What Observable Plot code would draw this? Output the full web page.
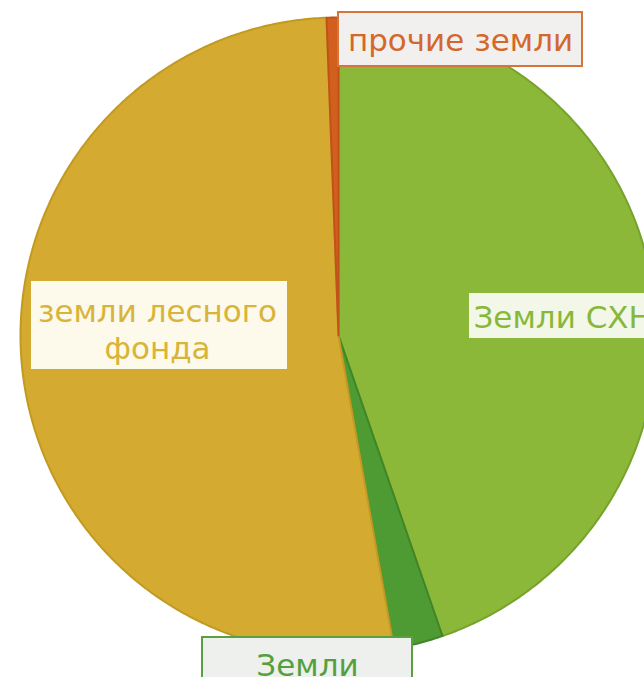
<!DOCTYPE html>
<html><head><meta charset="utf-8">
<script src="https://cdn.jsdelivr.net/npm/d3@7"></script>
<script src="https://cdn.jsdelivr.net/npm/@observablehq/plot@0.6"></script>
<style>body{margin:0;background:#fff;overflow:hidden}</style>
</head><body><div id="chart"></div>
<script>
// ---- data (clockwise from 12 o'clock) ----
const categories = ["Земли СХН", "Земли", "земли лесного фонда", "прочие земли"];
const shares = [44.7, 2.5, 52.2, 0.6];
const labelTexts = ["Земли СХН", "Земли", "земли лесного\nфонда", "прочие земли"];

// ---- styles ----
const sliceFill = ["#8cb83a", "#4f9b33", "#d4aa30", "#d35f1f"];
const sliceStroke = ["#77a22c", "#3f8628", "#c29a22", "#c0521a"];
const labelColor = ["#88b838", "#55a03c", "#d8b438", "#d4682c"];
const boxFill = ["#f2f7e8", "#eef0ee", "#fdf9eb", "#f1f0ee"];
const boxStroke = ["#8cb83a", "#5aa040", "#d4aa30", "#d8743a"];

// ---- layout ----
const W = 644, H = 677, CX = 338, CY = 335, R = 318;
// label boxes in pixels: [left, top, right, bottom], text anchor point
const labelLayout = [
  {box: [468, 292, 690, 339], tx: 473, ty: 316, anchor: "start"},
  {box: [202, 637, 412, 720], tx: 307, ty: 664, anchor: "middle"},
  {box: [30, 280, 288, 370], tx: 157, ty: 328, anchor: "middle"},
  {box: [338, 12, 582, 66], tx: 460, ty: 39, anchor: "middle"}
];
const u = (px) => (px - CX) / R;     // pixel x -> unit
const v = (py) => (CY - py) / R;     // pixel y -> unit

// pie geometry via d3.pie, drawn as closed polygons through Plot scales
const pie = d3.pie().sort(null).value(d => d.share).startAngle(0).endAngle(2 * Math.PI);
const arcs = pie(categories.map((c, i) => ({cat: c, share: shares[i], i})));
const pts = [];
for (const a of arcs) {
  const n = Math.max(2, Math.ceil((a.endAngle - a.startAngle) / (Math.PI / 360)));
  pts.push({cat: a.data.cat, i: a.data.i, x: 0, y: 0});
  for (let k = 0; k <= n; k++) {
    const t = a.startAngle + (a.endAngle - a.startAngle) * k / n;
    pts.push({cat: a.data.cat, i: a.data.i, x: Math.sin(t), y: Math.cos(t)});
  }
}

const labels = categories.map((c, i) => ({
  cat: c, i, text: labelTexts[i], anchor: labelLayout[i].anchor,
  x1: u(labelLayout[i].box[0]), x2: u(labelLayout[i].box[2]),
  y1: v(labelLayout[i].box[1]), y2: v(labelLayout[i].box[3]),
  tx: u(labelLayout[i].tx), ty: v(labelLayout[i].ty)
}));

const textStyle = {x: "tx", y: "ty", text: "text", fill: d => labelColor[d.i],
  fontSize: 31, lineHeight: 1.2};

const chart = Plot.plot({
  width: W, height: H,
  margin: 0,
  x: {domain: [u(0), u(W)], axis: null},
  y: {domain: [v(H), v(0)], axis: null},
  style: {fontFamily: "DejaVu Sans", background: "#fff"},
  marks: [
    Plot.line(pts, {x: "x", y: "y", z: "cat", curve: "linear-closed",
      fill: d => sliceFill[d.i], stroke: d => sliceStroke[d.i], strokeWidth: 2, strokeLinejoin: "round"}),
    Plot.rect(labels, {x1: "x1", x2: "x2", y1: "y1", y2: "y2",
      fill: d => boxFill[d.i], stroke: d => boxStroke[d.i], strokeWidth: 2}),
    Plot.text(labels.filter(d => d.anchor === "middle"), {...textStyle, textAnchor: "middle"}),
    Plot.text(labels.filter(d => d.anchor === "start"), {...textStyle, textAnchor: "start"})
  ]
});
document.getElementById("chart").append(chart);
</script>
</body></html>
